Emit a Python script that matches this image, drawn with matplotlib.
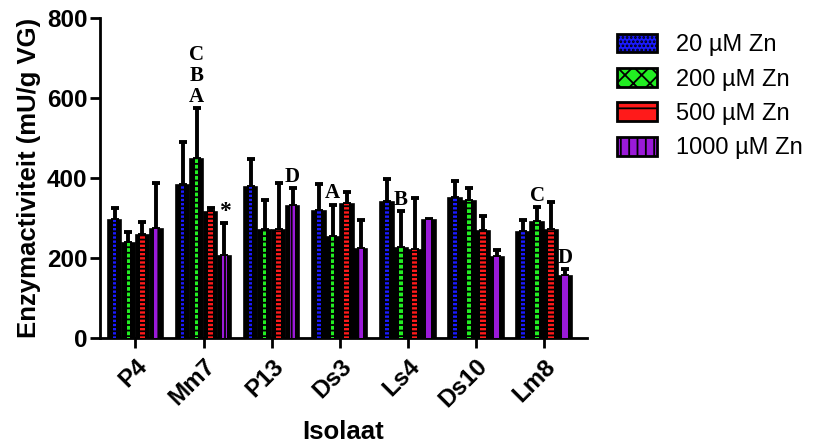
import matplotlib
matplotlib.use("Agg")
import matplotlib.pyplot as plt
from matplotlib.patches import Patch
import numpy as np

categories = ["P4", "Mm7", "P13", "Ds3", "Ls4", "Ds10", "Lm8"]
series_names = ["20 µM Zn", "200 µM Zn", "500 µM Zn", "1000 µM Zn"]
z20 = [294, 383, 377, 317, 339, 350, 265]
sd20 = [31, 106, 71, 67, 59, 42, 29]
z200 = [238, 448, 269, 252, 226, 342, 291]
sd200 = [27, 127, 77, 81, 91, 32, 36]
z500 = [258, 314, 269, 335, 220, 267, 271]
sd500 = [33, 11, 119, 29, 129, 38, 70]
z1000 = [272, 205, 331, 222, 296, 203, 154]
sd1000 = [116, 82, 43, 74, 2, 16, 18]
yticks = [0, 200, 400, 600, 800]
annotations = [("Mm7", 1, "C\nB\nA"), ("Mm7", 3, "*"), ("P13", 3, "D"),
               ("Ds3", 1, "A"), ("Ls4", 1, "B"), ("Lm8", 1, "C"), ("Lm8", 3, "D")]

means = [z20, z200, z500, z1000]
sds = [sd20, sd200, sd500, sd1000]
colors = ["#1a1aff", "#22ee22", "#ff1a1a", "#9a1ad8"]
inner_w = [0.05, 0.05, 0.075, 0.075]
hatches = ["----", "---", "----", "|"]
leg_hatch = ["....", "xx", "-", "||"]

plt.rcParams['hatch.linewidth'] = 1.3
fig = plt.figure(figsize=(8.14, 4.47), dpi=100)
ax = fig.add_axes([0.1229, 0.2438, 0.7211 - 0.1229, 0.9597 - 0.2438])

x = np.arange(len(categories))
bw = 0.205
for i in range(4):
    pos = x + (i - 1.5) * bw
    ax.bar(pos, means[i], width=bw * 0.97, color="black", edgecolor="black",
           linewidth=1.2, zorder=2)
    ax.bar(pos, means[i], width=inner_w[i], color=colors[i], edgecolor="black",
           linewidth=0, hatch=hatches[i], zorder=3)
    ax.errorbar(pos, means[i], yerr=[np.zeros(len(categories)), sds[i]],
                fmt="none", ecolor="black", elinewidth=2.8, capsize=3,
                capthick=2.8, zorder=1)

for cat, si, txt in annotations:
    ci = categories.index(cat)
    px = ci + (si - 1.5) * bw
    top = means[si][ci] + sds[si][ci]
    fs = 15 if txt != "*" else 17
    ax.annotate(txt, (px, top), xytext=(0, 1), textcoords="offset points",
                ha="center", va="bottom", fontsize=fs, fontweight="bold",
                family="Liberation Serif", linespacing=1.05)

ax.set_xlim(-0.52, 6.63)
ax.set_ylim(0, 800)
ax.set_yticks(yticks)
ax.set_xticks(x)
ax.set_xticklabels(categories, rotation=45, ha="right", rotation_mode="anchor",
                   fontsize=17.5, fontweight="bold", family="Liberation Sans")
for lab in ax.get_yticklabels():
    lab.set_fontsize(17.5)
    lab.set_fontweight("bold")
    lab.set_family("Liberation Sans")
ax.tick_params(axis="both", width=2, length=7, direction="out")
ax.tick_params(axis="x", pad=5)
ax.tick_params(axis="y", pad=2)
for s in ["top", "right"]:
    ax.spines[s].set_visible(False)
for s in ["left", "bottom"]:
    ax.spines[s].set_linewidth(2)
ax.set_ylabel("Enzymactiviteit (mU/g VG)", fontsize=18.5, fontweight="bold",
              family="Liberation Sans", labelpad=4)
ax.set_xlabel("Isolaat", fontsize=18.5, fontweight="bold", family="Liberation Sans",
              labelpad=6)

handles = [Patch(facecolor=colors[i], edgecolor="black", hatch=leg_hatch[i],
                 linewidth=2, label=series_names[i]) for i in range(4)]
fig.legend(handles=handles, loc="upper left", bbox_to_anchor=(0.758, 0.925),
           frameon=False, handlelength=1.7, handleheight=0.85,
           labelspacing=0.5, handletextpad=0.8, borderpad=0, borderaxespad=0,
           prop={"family": "Liberation Sans", "size": 17})

fig.savefig("out.png", dpi=100)
